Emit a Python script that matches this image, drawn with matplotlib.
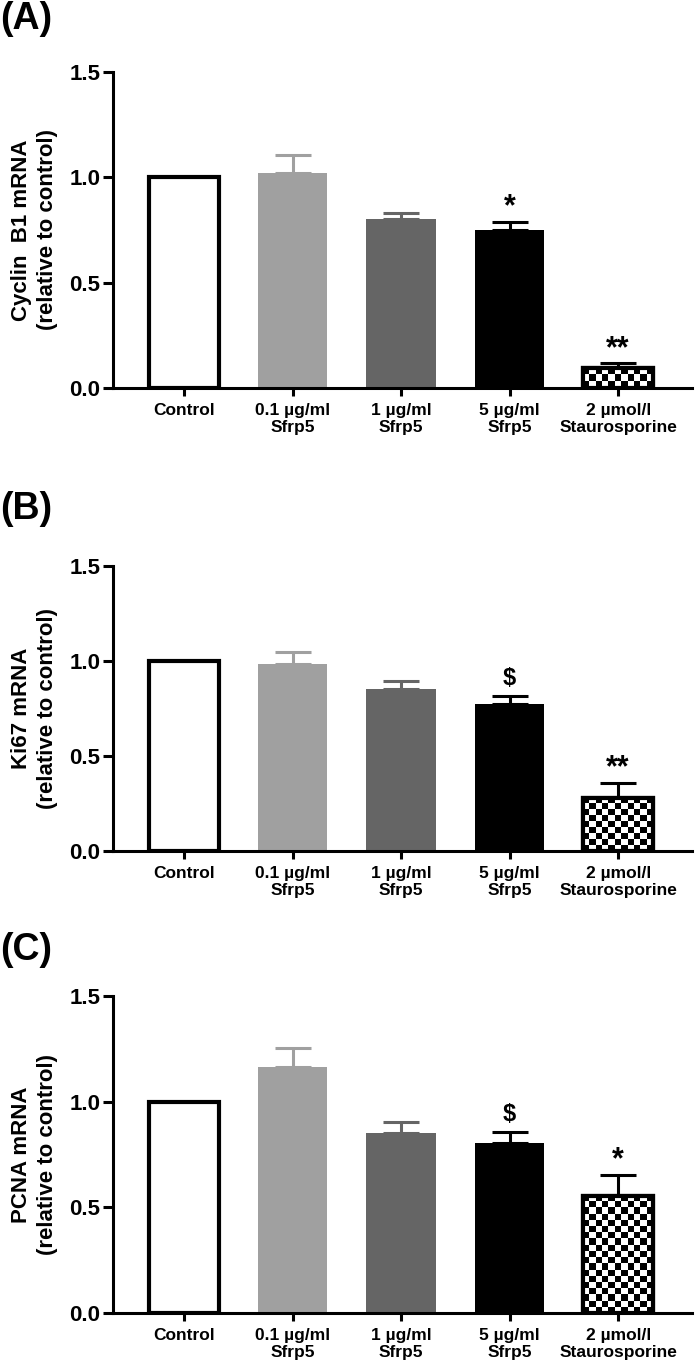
import numpy as np
import matplotlib
matplotlib.use("Agg")
import matplotlib.pyplot as plt

plt.rcParams['font.family'] = ['Liberation Sans', 'DejaVu Sans']
plt.rcParams['font.weight'] = 'bold'

# data
groups = ["Control", "0.1 µg/ml\nSfrp5", "1 µg/ml\nSfrp5", "5 µg/ml\nSfrp5", "2 µmol/l\nStaurosporine"]

cyclin_mean = [1.0, 1.02, 0.80, 0.75, 0.095]
cyclin_sem = [0.0, 0.085, 0.03, 0.04, 0.023]
cyclin_sig = ["", "", "", "*", "**"]

ki67_mean = [1.0, 0.985, 0.855, 0.775, 0.28]
ki67_sem = [0.0, 0.06, 0.04, 0.04, 0.08]
ki67_sig = ["", "", "", "$", "**"]

pcna_mean = [1.0, 1.165, 0.85, 0.805, 0.555]
pcna_sem = [0.0, 0.09, 0.055, 0.05, 0.10]
pcna_sig = ["", "", "", "$", "*"]

panels = [
    ("(A)", "Cyclin  B1 mRNA\n(relative to control)", cyclin_mean, cyclin_sem, cyclin_sig),
    ("(B)", "Ki67 mRNA\n(relative to control)", ki67_mean, ki67_sem, ki67_sig),
    ("(C)", "PCNA mRNA\n(relative to control)", pcna_mean, pcna_sem, pcna_sig),
]

colors = ["white", "#a0a0a0", "#656565", "black", "white"]
edges = ["black", "#a0a0a0", "#656565", "black", "black"]
err_colors = ["black", "#a0a0a0", "#656565", "black", "black"]

W, H = 695, 1371
fig = plt.figure(figsize=(W / 100, H / 100), dpi=100)

# axes boxes in pixels: (top, bottom)
boxes = [(72, 388), (566, 851), (996, 1313)]
left_px, right_px = 113, 692
letter_y = [19, 509, 950]

bar_w = 0.64
x = np.arange(len(groups))

for (letter, ylab, mean, sem, sig), (top, bot), ly in zip(panels, boxes, letter_y):
    ax = fig.add_axes([left_px / W, (H - bot) / H, (right_px - left_px) / W, (bot - top) / H])
    ax.set_xlim(-0.654, 4.68)
    ax.set_ylim(0, 1.5)

    for i in range(len(groups)):
        lw = 3.0 if i in (0, 4) else 0
        ax.bar(x[i], mean[i], width=bar_w, color=colors[i], edgecolor=edges[i],
               linewidth=lw, zorder=2)
        if sem[i] > 0:
            ax.errorbar(x[i], mean[i], yerr=[[0], [sem[i]]], fmt='none',
                        ecolor=err_colors[i], elinewidth=2.2, capsize=13,
                        capthick=2.2, zorder=1)
        if sig[i]:
            off = 0.0 if sig[i] == "$" else -0.035
            ax.text(x[i], mean[i] + sem[i] + 0.03 + off, sig[i], ha='center', va='bottom',
                    fontsize=22 if sig[i] != "$" else 17, fontweight='bold')

    # checkerboard fill for staurosporine bar
    i = 4
    x0 = x[i] - bar_w / 2
    x1 = x[i] + bar_w / 2
    ppu_x = ax.bbox.width / (4.68 + 0.654)
    ppu_y = ax.bbox.height / 1.5
    ncols = max(1, int(round(bar_w * ppu_x / 6.2)))
    nrows = max(1, int(round(mean[i] * ppu_y / 6.2)))
    board = (np.indices((nrows, ncols)).sum(axis=0) % 2).astype(float)
    ax.imshow(board, extent=(x0, x1, 0, mean[i]), cmap='gray', aspect='auto',
              interpolation='nearest', zorder=2.5)
    ax.bar(x[i], mean[i], width=bar_w, color='none', edgecolor='black',
           linewidth=3.0, zorder=3)
    ax.set_xlim(-0.654, 4.68)
    ax.set_ylim(0, 1.5)

    for s in ['top', 'right']:
        ax.spines[s].set_visible(False)
    for s in ['left', 'bottom']:
        ax.spines[s].set_linewidth(2.2)
    ax.set_yticks([0.0, 0.5, 1.0, 1.5])
    ax.set_yticklabels(["0.0", "0.5", "1.0", "1.5"], fontsize=16, fontweight='bold')
    ax.set_xticks(x)
    ax.set_xticklabels(groups, fontsize=12.5, fontweight='bold', linespacing=1.15)
    ax.tick_params(axis='y', length=7, width=2.2, pad=2)
    ax.tick_params(axis='x', length=6, width=2.2, pad=5)
    ax.set_ylabel(ylab, fontsize=16, fontweight='bold', linespacing=1.35, labelpad=8)

    fig.text(0 / W, 1 - ly / H, letter, fontsize=27, fontweight='bold', va='center', ha='left')

fig.savefig("out.png", dpi=100)
